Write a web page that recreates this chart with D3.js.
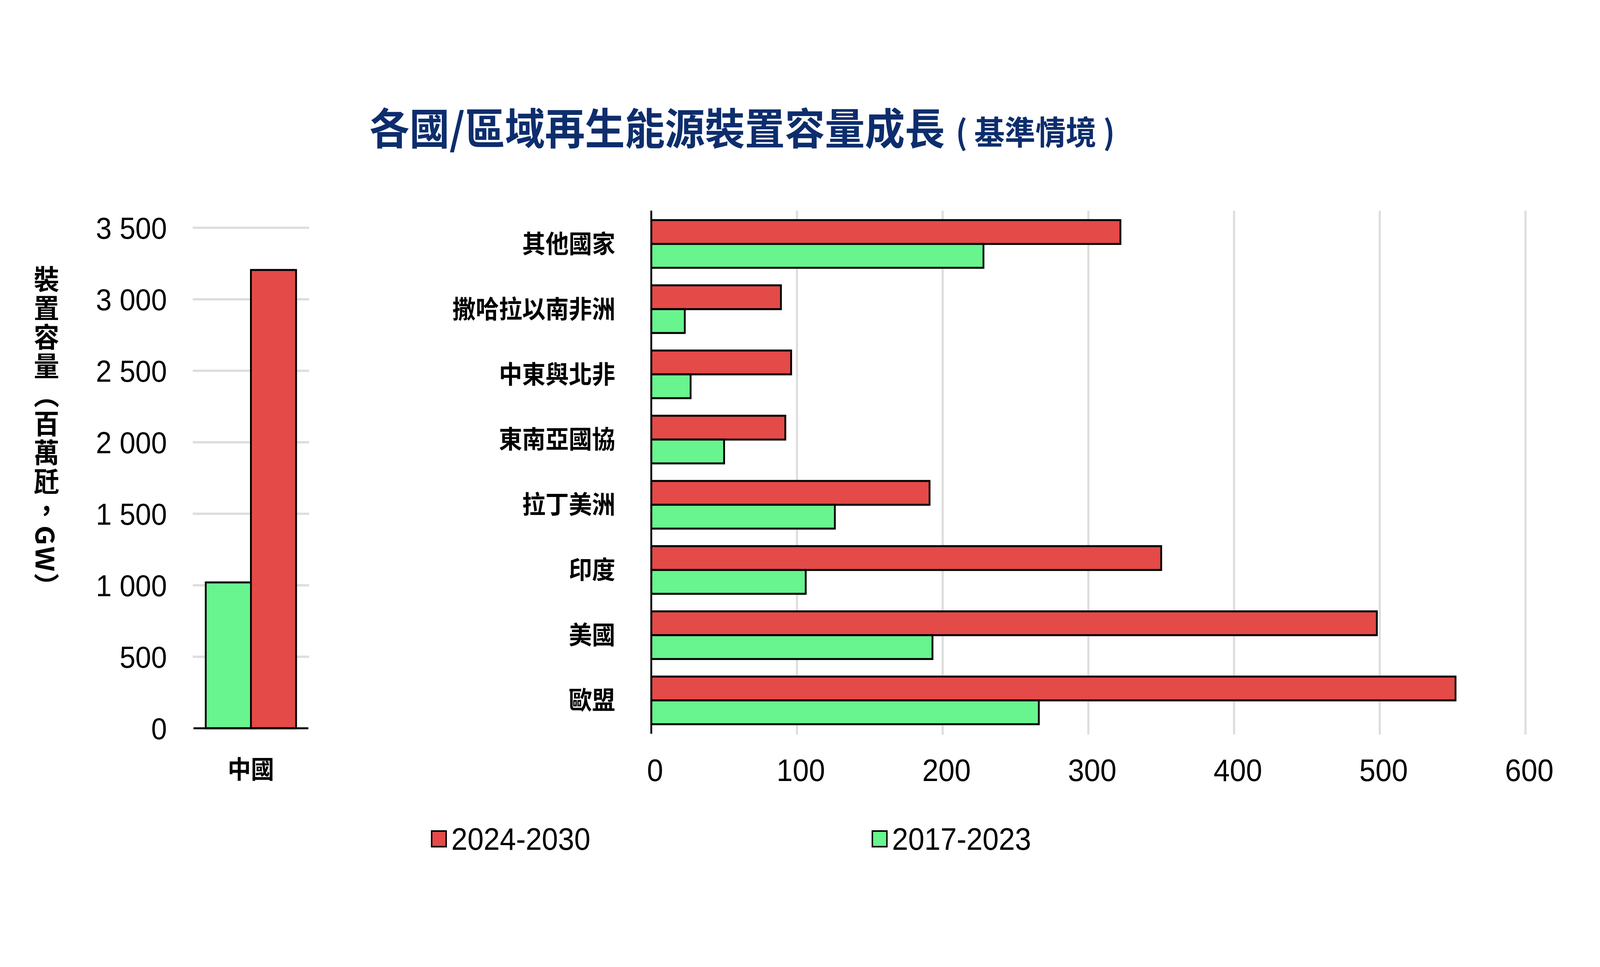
<!DOCTYPE html>
<html lang="zh-Hant">
  <head>
    <meta charset="utf-8">
    <title>各國/區域再生能源裝置容量成長</title>
    <script src="https://d3js.org/d3.v7.min.js"></script>
    <style>
      html, body { margin: 0; padding: 0; overflow: hidden; background: #fff; }
      svg { display: block; }
      text { fill: #000; }
    </style>
  </head>

  <body>

  <script>

// data
  var seriesNames = ["2024-2030", "2017-2023"];
  var seriesColors = ["#e44a48", "#68f48f"];

  var chinaCategory = ["中國"];
  var china2017 = [1020];
  var china2024 = [3205];

  var regions = ["其他國家", "撒哈拉以南非洲", "中東與北非", "東南亞國協",
      "拉丁美洲", "印度", "美國", "歐盟"];
  var regions2024 = [322, 89, 96, 92, 191, 350, 498, 552];
  var regions2017 = [228, 23, 27, 50, 126, 106, 193, 266];

  var leftTicks = [0, 500, 1000, 1500, 2000, 2500, 3000, 3500];
  var rightTicks = [0, 100, 200, 300, 400, 500, 600];

  var w = 4400;
  var h = 2475;
  var cjk = "'Noto Sans CJK TC', 'Noto Sans CJK SC', sans-serif";
  var latin = "'Liberation Sans', Arial, sans-serif";
  var grid = "#dedede";

  // the window is narrower than 4400, so stretch the drawing over the viewport
  var svg = d3.select("body")
    .append("svg")
      .attr("viewBox", `0 0 ${w} ${h}`)
      .attr("preserveAspectRatio", "none")
      .style("width", "100vw")
      .style("height", "100vh");

  svg.append("rect")
      .attr("width", w)
      .attr("height", h)
      .attr("fill", "#fff");

  // title
  var title = svg.append("text")
      .attr("x", 1016)
      .attr("y", 370)
      .attr("font-family", cjk)
      .attr("font-weight", "bold")
      .style("fill", "#0d2d6d");
  title.append("tspan")
      .attr("font-size", 110)
      .text("各國/區域再生能源裝置容量成長");
  title.append("tspan")
      .attr("font-size", 84)
      .attr("dx", 30)
      .text("( 基準情境 )");

  // left chart: China
  var lx = d3.scaleBand()
      .domain(chinaCategory)
      .range([532, 848])
      .paddingOuter(0.136);

  var lsub = d3.scaleBand()
      .domain([0, 1])
      .range([0, lx.bandwidth()]);

  var ly = d3.scaleLinear()
      .domain([0, 3500])
      .range([1864, 583]);

  svg.append("g")
      .attr("class", "leftGrid")
      .selectAll("line")
      .data(leftTicks.slice(1))
    .enter().append("line")
      .attr("x1", 530)
      .attr("x2", 850)
      .attr("y1", d => ly(d))
      .attr("y2", d => ly(d))
      .attr("stroke", grid)
      .attr("stroke-width", 6);

  var leftAxis = d3.axisLeft(ly)
      .tickValues(leftTicks)
      .tickSize(0)
      .tickPadding(0)
      .tickFormat(d => d3.format(",")(d).replace(",", " "));

  svg.append("g")
      .attr("class", "yAxis")
      .attr("transform", "translate(459, 0)")
      .call(leftAxis)
      .call(g => g.select(".domain").remove())
      .selectAll("text")
      .attr("font-family", latin)
      .attr("font-size", 78)
      .attr("dy", "0.35em");

  var chinaData = chinaCategory.map((c, i) => [
      {cat: c, k: 0, v: china2017[i], color: seriesColors[1]},
      {cat: c, k: 1, v: china2024[i], color: seriesColors[0]}
  ]).flat();

  svg.append("g")
      .attr("class", "chinaBars")
      .selectAll("rect")
      .data(chinaData)
    .enter().append("rect")
      .attr("x", d => lx(d.cat) + lsub(d.k))
      .attr("y", d => ly(d.v))
      .attr("width", lsub.bandwidth())
      .attr("height", d => ly(0) - ly(d.v))
      .attr("fill", d => d.color)
      .attr("stroke", "#000")
      .attr("stroke-width", 5);

  svg.append("line")
      .attr("x1", 532)
      .attr("x2", 848)
      .attr("y1", ly(0))
      .attr("y2", ly(0))
      .attr("stroke", "#000")
      .attr("stroke-width", 5);

  svg.append("g")
      .selectAll("text")
      .data(chinaCategory)
    .enter().append("text")
      .attr("x", d => lx(d) + lx.bandwidth() / 2)
      .attr("y", 1970)
      .attr("dy", "0.35em")
      .attr("text-anchor", "middle")
      .attr("font-family", cjk)
      .attr("font-weight", "bold")
      .attr("font-size", 64)
      .text(d => d);

  svg.append("text")
      .attr("x", 128)
      .attr("y", 679)
      .attr("font-family", cjk)
      .attr("font-weight", "bold")
      .attr("font-size", 70)
      .attr("letter-spacing", 4)
      .style("writing-mode", "vertical-rl")
      .style("text-orientation", "mixed")
      .text("裝置容量（百萬瓩，GW）");

  // right chart: regions
  var rx = d3.scaleLinear()
      .domain([0, 600])
      .range([1791, 4195]);

  var ry = d3.scaleBand()
      .domain(regions)
      .range([539, 1878])
      .paddingInner(0.269)
      .paddingOuter(0.146);

  var rsub = d3.scaleBand()
      .domain([0, 1])
      .range([0, ry.bandwidth()]);

  svg.append("g")
      .attr("class", "rightGrid")
      .selectAll("line")
      .data(rightTicks.slice(1))
    .enter().append("line")
      .attr("x1", d => rx(d))
      .attr("x2", d => rx(d))
      .attr("y1", 539)
      .attr("y2", 1880)
      .attr("stroke", grid)
      .attr("stroke-width", 6);

  var regionData = regions.map((r, i) => [
      {cat: r, k: 0, v: regions2024[i], color: seriesColors[0]},
      {cat: r, k: 1, v: regions2017[i], color: seriesColors[1]}
  ]).flat();

  svg.append("g")
      .attr("class", "regionBars")
      .selectAll("rect")
      .data(regionData)
    .enter().append("rect")
      .attr("x", rx(0))
      .attr("y", d => ry(d.cat) + rsub(d.k))
      .attr("width", d => rx(d.v) - rx(0))
      .attr("height", rsub.bandwidth())
      .attr("fill", d => d.color)
      .attr("stroke", "#000")
      .attr("stroke-width", 5);

  svg.append("line")
      .attr("x1", rx(0))
      .attr("x2", rx(0))
      .attr("y1", 539)
      .attr("y2", 1878)
      .attr("stroke", "#000")
      .attr("stroke-width", 5);

  var regionAxis = d3.axisLeft(ry)
      .tickSize(0)
      .tickPadding(0);

  svg.append("g")
      .attr("class", "regionAxis")
      .attr("transform", "translate(1692, 0)")
      .call(regionAxis)
      .call(g => g.select(".domain").remove())
      .selectAll("text")
      .attr("font-family", cjk)
      .attr("font-weight", "bold")
      .attr("font-size", 64)
      .attr("dy", "0.35em");

  var xAxis = d3.axisBottom(rx)
      .tickValues(rightTicks)
      .tickSize(0)
      .tickPadding(0);

  svg.append("g")
      .attr("class", "xAxis")
      .attr("transform", "translate(10, 1971)")
      .call(xAxis)
      .call(g => g.select(".domain").remove())
      .selectAll("text")
      .attr("font-family", latin)
      .attr("font-size", 80)
      .attr("dy", "0.35em");

  // legend
  var legendX = [1187, 2399];
  var legend = svg.append("g")
      .attr("class", "legend")
      .selectAll("g")
      .data(seriesNames)
    .enter().append("g")
      .attr("transform", (d, i) => `translate(${legendX[i]}, 2147)`);

  legend.append("rect")
      .attr("x", 0)
      .attr("y", -20)
      .attr("width", 40)
      .attr("height", 40)
      .attr("fill", (d, i) => seriesColors[i])
      .attr("stroke", "#000")
      .attr("stroke-width", 4);

  legend.append("text")
      .attr("x", 54)
      .attr("dy", "0.35em")
      .attr("font-family", latin)
      .attr("font-size", 80)
      .text(d => d);

    </script>

  </body>

</html>
